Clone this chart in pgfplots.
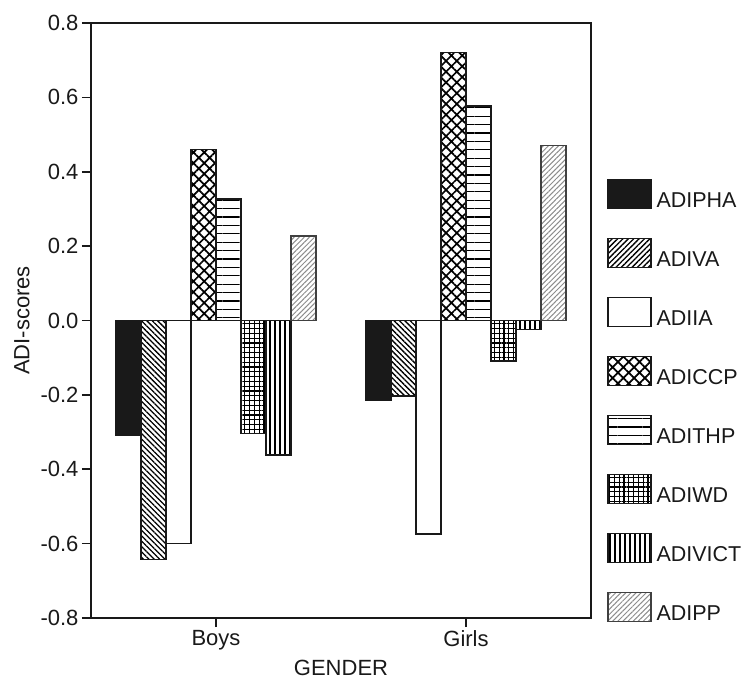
\documentclass[border=0pt]{standalone}
\usepackage{fontspec}
\setmainfont{Liberation Sans}
\usepackage{pgfplots}
\pgfplotsset{compat=1.18}
\usetikzlibrary{patterns.meta}
\begin{document}
\begin{tikzpicture}
\useasboundingbox (-91pt,-61pt) rectangle (652pt,618pt);
\begin{axis}[
  scale only axis, width=500pt, height=595pt,
  xmin=-0.5, xmax=1.5, ymin=-0.8, ymax=0.8,
  xtick={0,1}, xticklabels={Boys,Girls},
  ytick={-0.8,-0.6,-0.4,-0.2,0,0.2,0.4,0.6,0.8},
  yticklabel style={/pgf/number format/.cd, fixed, fixed zerofill, precision=1},
  /pgf/number format/assume math mode=true,
  tick align=outside, xtick pos=bottom, ytick pos=left,
  major tick length=9pt,
  axis line style={line width=2pt, black!90},
  every tick/.style={line width=1.6pt, black!90},
  tick label style={font=\fontsize{22}{26}\selectfont, black!90},
  label style={font=\fontsize{22}{26}\selectfont, black!90},
  xlabel={GENDER}, ylabel={ADI-scores},
  xlabel style={yshift=-3pt}, ylabel style={yshift=4pt},
  ybar, bar width=0.1,
  every axis plot/.append style={draw=black!90, line width=1.3pt},
  legend image code/.code={\draw[#1, line width=1.3pt] (0pt,-7.5pt) rectangle (43pt,21.5pt);},
  legend cell align=left,
  legend style={draw=none, fill=none, at={(1.032,0.738)}, anchor=north west,
    inner sep=0pt, row sep=28.6pt, column sep=5pt,
    nodes={inner sep=0pt},
    font=\fontsize{21.5}{25}\selectfont, text=black!90},
]
\addplot[bar shift=-0.35, fill=black!90] coordinates {(0,-0.308) (1,-0.214)};
\addlegendentry{ADIPHA}
\addplot[bar shift=-0.25, pattern={Lines[angle=-45,distance=3.8pt,line width=1.3pt]},
  legend image post style={pattern={Lines[angle=45,distance=3.8pt,line width=1.3pt]}}] coordinates {(0,-0.642) (1,-0.203)};
\addlegendentry{ADIVA}
\addplot[bar shift=-0.15, fill=white] coordinates {(0,-0.600) (1,-0.574)};
\addlegendentry{ADIIA}
\addplot[bar shift=-0.05, pattern={Hatch[angle=45,distance=7.6pt,line width=1.7pt]}] coordinates {(0,0.460) (1,0.720)};
\addlegendentry{ADICCP}
\addplot[bar shift=0.05, pattern={Lines[angle=0,distance=8.4pt,line width=1.3pt]}] coordinates {(0,0.327) (1,0.577)};
\addlegendentry{ADITHP}
\addplot[bar shift=0.15, pattern={Hatch[angle=0,distance=4.8pt,line width=1.1pt]}] coordinates {(0,-0.303) (1,-0.109)};
\addlegendentry{ADIWD}
\addplot[bar shift=0.25, pattern={Lines[angle=90,distance=5pt,line width=1.1pt]}] coordinates {(0,-0.362) (1,-0.024)};
\addlegendentry{ADIVICT}
\addplot[bar shift=0.35, draw=black!75, pattern={Lines[angle=45,distance=3.6pt,line width=1pt]}, pattern color=black!45] coordinates {(0,0.227) (1,0.471)};
\addlegendentry{ADIPP}
\end{axis}
\end{tikzpicture}
\end{document}
